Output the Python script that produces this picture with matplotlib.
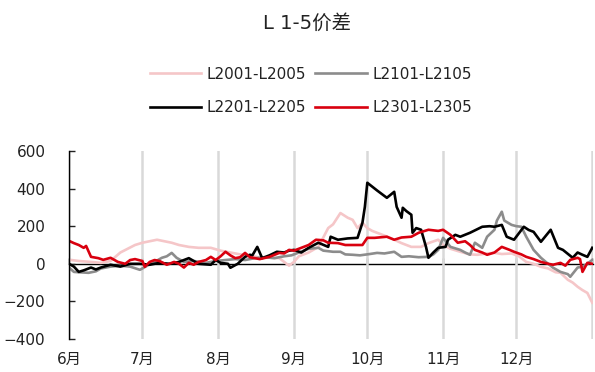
import matplotlib
matplotlib.use("Agg")
import matplotlib.pyplot as plt

plt.rcParams['font.family'] = ['DejaVu Sans', 'Noto Sans CJK SC']
plt.rcParams['axes.unicode_minus'] = True

title = "L 1-5价差"
month_days = [0, 30, 61, 92, 122, 153, 183, 214]
month_labels = ["6月", "7月", "8月", "9月", "10月", "11月", "12月", ""]

# day offsets from 1 June and spread values
pink_days = [1, 4, 9, 13, 17, 21, 24, 27, 30, 33, 36, 39, 42, 45, 49, 53, 58, 62, 66, 70, 74, 78, 82, 86, 90, 92, 94, 98, 102, 106, 108, 111, 114, 116, 118, 120, 122, 124, 126, 129, 133, 136, 140, 144, 147, 151, 153, 156, 160, 164, 167, 171, 174, 177, 181, 184, 187, 190, 193, 196, 199, 201, 204, 206, 208, 210, 212, 214]
pink_vals = [20, 15, 10, 5, 15, 60, 80, 100, 112, 120, 128, 120, 112, 100, 90, 85, 85, 70, 60, 50, 45, 32, 32, 30, -10, 10, 40, 60, 90, 190, 210, 270, 245, 234, 190, 218, 190, 175, 165, 150, 128, 110, 90, 90, 110, 128, 100, 80, 64, 50, 48, 55, 58, 52, 55, 40, 10, 0, -16, -25, -45, -48, -85, -100, -122, -140, -155, -207]

gray_days = [0, 2, 4, 8, 11, 13, 17, 21, 25, 29, 32, 35, 38, 40, 42, 44, 47, 51, 56, 60, 64, 68, 72, 76, 80, 84, 88, 91, 94, 98, 102, 104, 108, 111, 113, 116, 119, 123, 126, 129, 133, 136, 139, 143, 147, 149, 151, 153, 156, 160, 162, 164, 166, 169, 171, 174, 175, 177, 178, 181, 183, 185, 187, 190, 193, 195, 198, 201, 204, 205, 208, 210, 212, 214]
gray_vals = [-20, -43, -45, -48, -40, -25, -15, -10, -15, -32, -10, 10, 32, 40, 58, 32, 10, 15, 5, 15, 20, 25, 20, 30, 35, 30, 40, 45, 60, 80, 85, 70, 64, 64, 50, 48, 45, 52, 58, 55, 64, 37, 40, 35, 37, 50, 74, 138, 90, 74, 60, 48, 112, 85, 144, 181, 230, 277, 230, 207, 200, 197, 144, 74, 32, 10, -21, -43, -55, -69, -20, -15, 0, 21]

black_days = [0, 2, 4, 6, 9, 11, 13, 17, 21, 25, 29, 33, 37, 41, 45, 49, 53, 58, 60, 62, 65, 66, 69, 72, 74, 75, 77, 79, 82, 85, 88, 90, 92, 95, 98, 102, 106, 107, 110, 114, 118, 120, 121, 122, 126, 130, 133, 134, 136, 136.5, 138, 140, 140.5, 142, 144, 146, 147, 149, 151, 154, 155, 158, 160, 164, 169, 172, 174, 177, 179, 182, 186, 188, 190, 193, 197, 200, 202, 206, 208, 210, 212, 214]
black_vals = [0, -15, -43, -35, -20, -30, -20, -5, -15, 0, 0, -5, 5, 0, 10, 30, 0, -5, 20, 5, 0, -21, 0, 37, 48, 45, 90, 30, 45, 64, 60, 70, 74, 60, 85, 112, 90, 144, 128, 135, 138, 218, 303, 431, 390, 351, 383, 303, 245, 298, 280, 261, 165, 190, 181, 90, 32, 60, 85, 90, 128, 154, 144, 165, 197, 200, 197, 207, 144, 128, 197, 180, 170, 117, 181, 85, 74, 32, 60, 48, 37, 85]

red_days = [0, 2, 4, 6, 7, 9, 12, 14, 17, 20, 23, 25, 27, 30, 31, 33, 35, 37, 40, 43, 45, 47, 49, 51, 53, 56, 58, 60, 62, 64, 66, 68, 70, 72, 74, 78, 82, 86, 88, 90, 92, 95, 98, 101, 104, 106, 110, 113, 117, 120, 122, 125, 130, 133, 136, 140, 143, 147, 151, 153, 156, 159, 162, 164, 166, 169, 171, 174, 177, 180, 182, 185, 187, 190, 193, 196, 198, 201, 203, 205, 208, 209, 210, 212, 214]
red_vals = [122, 110, 100, 85, 95, 37, 30, 21, 32, 10, 0, 20, 25, 15, -16, 10, 20, 15, -5, 10, 0, -20, 5, -5, 10, 20, 37, 20, 40, 64, 45, 30, 35, 58, 35, 25, 37, 58, 55, 74, 70, 85, 100, 128, 125, 112, 110, 100, 100, 100, 138, 138, 144, 128, 140, 144, 165, 181, 175, 181, 154, 112, 120, 100, 74, 60, 48, 60, 90, 75, 64, 50, 37, 25, 10, 0, -5, 5, -10, 21, 32, 25, -43, 5, 0]

series = [
    ("L2001-L2005", pink_days, pink_vals, "#F5C6C8"),
    ("L2101-L2105", gray_days, gray_vals, "#8C8C8C"),
    ("L2201-L2205", black_days, black_vals, "#000000"),
    ("L2301-L2305", red_days, red_vals, "#D9000F"),
]

fig = plt.figure(figsize=(5.95, 3.72), dpi=100)
ax = fig.add_axes([69 / 595, 1 - 339 / 372, (593 - 69) / 595, (339 - 151) / 372])

lines = []
for name, d, v, c in series:
    ln, = ax.plot(d, v, color=c, lw=1.9, label=name)
    lines.append(ln)

ax.set_xlim(0, 214.3)
ax.set_ylim(-400, 600)
ax.set_yticks([-400, -200, 0, 200, 400, 600])
ax.set_xticks(month_days)
ax.set_xticklabels(month_labels)
ax.grid(axis='x', color='#D9D9D9', lw=1.8)
ax.set_axisbelow(True)

for s in ['top', 'right', 'bottom']:
    ax.spines[s].set_visible(False)
ax.spines['left'].set_color('black')
ax.spines['left'].set_linewidth(1.0)
ax.tick_params(axis='y', direction='in', length=4, width=1, pad=17, labelsize=11, colors='#222222')
ax.tick_params(axis='x', length=0, pad=9, labelsize=11, colors='#222222')

sec = ax.secondary_xaxis(0.4)
sec.set_xticks(month_days)
sec.set_xticklabels([])
sec.spines['bottom'].set_color('black')
sec.spines['bottom'].set_linewidth(1.0)
sec.tick_params(axis='x', direction='in', length=4, width=1)

fig.text(307 / 595, 1 - 23 / 372, title, ha='center', va='center', fontsize=14, color='#222222')

order = [0, 2, 1, 3]
fig.legend([lines[i] for i in order], [series[i][0] for i in order], ncol=2, loc='center',
           bbox_to_anchor=(311 / 595, 1 - 91 / 372), frameon=False, fontsize=11,
           handlelength=3.4, handletextpad=0.35, columnspacing=0.6, labelspacing=1.2,
           labelcolor='#222222')

fig.savefig("out.png", dpi=100)
